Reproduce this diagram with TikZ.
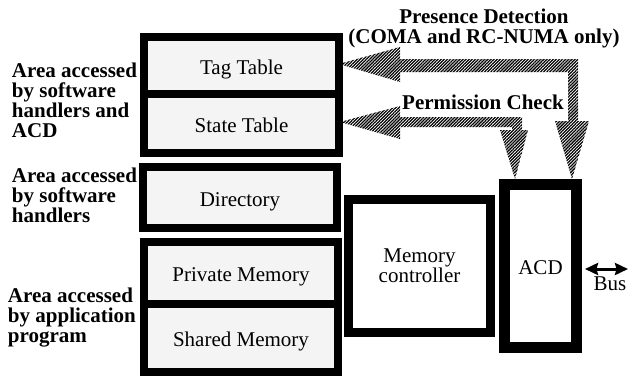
\documentclass[tikz,border=0pt]{standalone}
\usepackage{fontspec}
\setmainfont{Liberation Serif}
\usetikzlibrary{patterns.meta,arrows.meta}
\definecolor{memfill}{HTML}{F4F4F4}
\newcommand\diagreg{\fontsize{21}{20}\selectfont}
\newcommand\diagbold{\fontsize{21}{20}\selectfont\bfseries}
\begin{document}
\begin{tikzpicture}[x=1pt,y=-1pt,
  every node/.style={inner sep=0pt, outer sep=0pt},
  cell/.style={draw, line width=8pt, fill=memfill, font=\diagreg,
               text height=17pt, text depth=0pt},
  unit/.style={draw, fill=white, font=\diagreg, align=center},
  heading/.style={font=\diagbold, align=left},
  hatch/.style={pattern={Lines[angle=45,distance=2.2pt,line width=1.25pt]},
                pattern color=black},
  busarrow/.style={line width=3pt, {Stealth[length=13pt,width=12pt,inset=1.5pt]}-{Stealth[length=13pt,width=12pt,inset=1.5pt]}}]
\useasboundingbox (0,0) rectangle (630,376);

% hatched request paths from the ACD back to the tables
\path[hatch] (339,64) -- (400,47) -- (400,59) -- (578,59) -- (578,121)
  -- (589,121) -- (572,179) -- (555,121) -- (568,121) -- (568,72)
  -- (400,72) -- (400,82) -- cycle;
\path[hatch] (340,122) -- (400,106) -- (400,117) -- (522,117) -- (522,130)
  -- (528,130) -- (515,179) -- (500,130) -- (512,130) -- (512,127)
  -- (400,127) -- (400,139) -- cycle;

% memory regions
\node[cell, minimum width=195pt, minimum height=57pt] (tag) at (241.5,65.5) {Tag Table};
\node[cell, minimum width=195pt, minimum height=59pt] (state) at (241.5,123.5) {State Table};
\node[cell, minimum width=194pt, minimum height=61pt] (dir) at (240,197.5) {Directory};
\node[cell, minimum width=194pt, minimum height=61.5pt] (priv) at (241,272.75) {Private Memory};
\node[cell, minimum width=194pt, minimum height=68pt] (shared) at (241,337.5) {Shared Memory};

% controllers
\node[unit, line width=9pt, minimum width=142pt, minimum height=133pt] (mc) at (419.5,266) {Memory\\controller};
\node[unit, line width=11pt, minimum width=72pt, minimum height=163pt,
      text height=17pt, text depth=0pt] (acd) at (540.5,266) {ACD};

% bus
\coordinate (busL) at (585,269);
\coordinate (busR) at (628,269);
\draw[busarrow] (busL) -- (busR);
\node[font=\diagreg, anchor=base] (bus) at (610,290) {Bus};

% labels
\node[heading, anchor=north west] (lab1) at (12,62.5) {Area accessed\\by software\\handlers and\\ACD};
\node[heading, anchor=north west] (lab2) at (12,167.5) {Area accessed\\by software\\handlers};
\node[heading, anchor=north west] (lab3) at (8,287.5) {Area accessed\\by application\\program};
\node[heading, align=center, anchor=north] (pd) at (484,9) {Presence Detection\\(COMA and RC-NUMA only)};
\node[font=\diagbold, anchor=base] (pc) at (483,109) {Permission Check};
\end{tikzpicture}
\end{document}
